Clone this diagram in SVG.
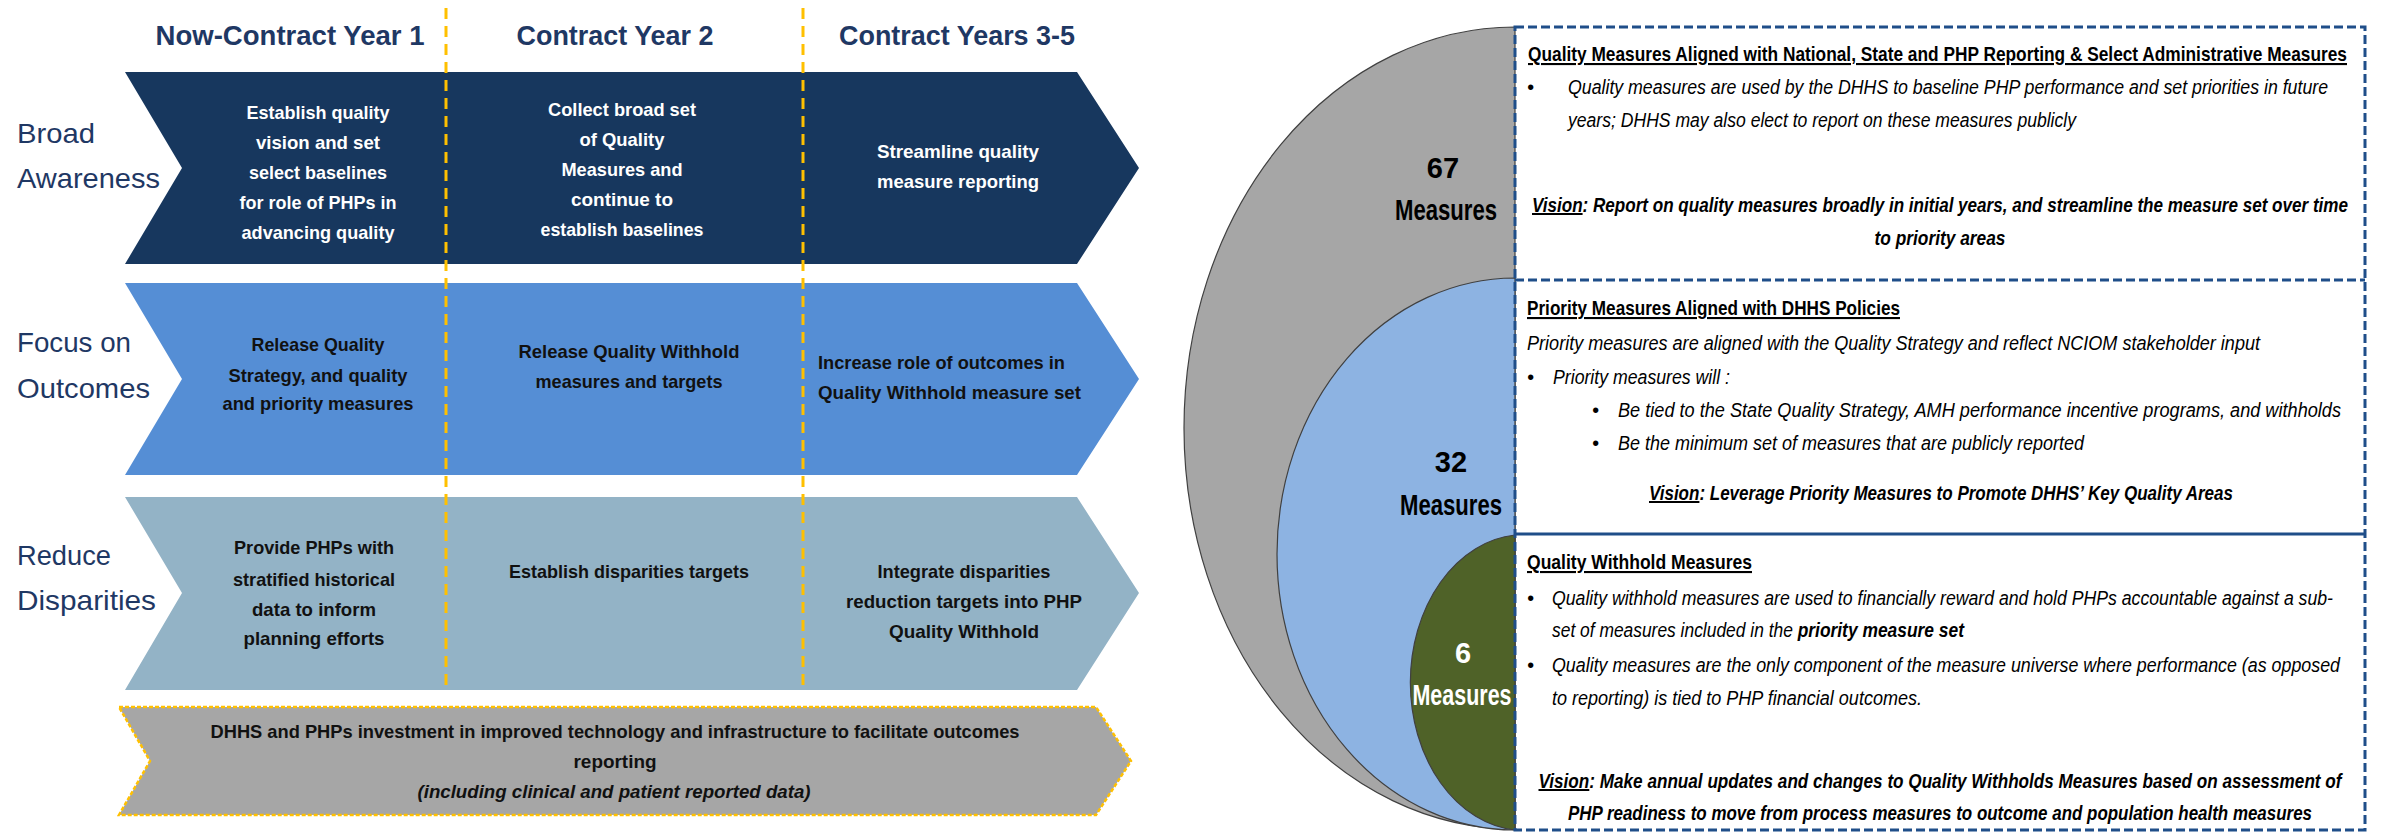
<svg xmlns="http://www.w3.org/2000/svg" width="2382" height="832" viewBox="0 0 2382 832">
<style>
text{font-family:"Liberation Sans",Arial,sans-serif}
.hdr{font-weight:bold;font-size:27px;fill:#1F3864;text-anchor:middle}
.lbl{font-size:28px;fill:#1F3864}
.rt{font-weight:bold;font-size:19px;text-anchor:middle}
.w{fill:#fff}
.d{fill:#111}
.st{text-anchor:start}
.it{font-style:italic}
.num{font-weight:bold;font-size:29px;text-anchor:middle}
.ttl{font-weight:bold;font-size:21px;text-decoration:underline;fill:#000}
.bd{font-style:italic;font-size:20px;fill:#000}
.vs{font-style:italic;font-weight:bold;font-size:20px;fill:#000;text-anchor:middle}
.u{text-decoration:underline}
.b{font-weight:bold}
.yl{stroke:#FFC000;stroke-width:3;stroke-dasharray:11 7;fill:none}
.ell{stroke:#404040;stroke-width:1.2}
.box{fill:none;stroke:#1F4E89;stroke-width:3;stroke-dasharray:9 4}
</style>

<g id="headers">
<text class="hdr" x="290" y="45" textLength="269" lengthAdjust="spacingAndGlyphs">Now-Contract Year 1</text>
<text class="hdr" x="615" y="45" textLength="197" lengthAdjust="spacingAndGlyphs">Contract Year 2</text>
<text class="hdr" x="957" y="45" textLength="236" lengthAdjust="spacingAndGlyphs">Contract Years 3-5</text>
</g>

<g id="row-labels">
<text class="lbl" x="17" y="143" textLength="78" lengthAdjust="spacingAndGlyphs">Broad</text>
<text class="lbl" x="17" y="188" textLength="143" lengthAdjust="spacingAndGlyphs">Awareness</text>
<text class="lbl" x="17" y="352" textLength="114" lengthAdjust="spacingAndGlyphs">Focus on</text>
<text class="lbl" x="17" y="398" textLength="133" lengthAdjust="spacingAndGlyphs">Outcomes</text>
<text class="lbl" x="17" y="565" textLength="94" lengthAdjust="spacingAndGlyphs">Reduce</text>
<text class="lbl" x="17" y="610" textLength="139" lengthAdjust="spacingAndGlyphs">Disparities</text>
</g>

<g id="row-broad-awareness">
<polygon points="125,72 1077,72 1139,168 1077,264 125,264 182,168" fill="#17375E"/>
<text class="rt w" x="318" y="119" textLength="143" lengthAdjust="spacingAndGlyphs">Establish quality</text>
<text class="rt w" x="318" y="149" textLength="124" lengthAdjust="spacingAndGlyphs">vision and set</text>
<text class="rt w" x="318" y="179" textLength="138" lengthAdjust="spacingAndGlyphs">select baselines</text>
<text class="rt w" x="318" y="209" textLength="157" lengthAdjust="spacingAndGlyphs">for role of PHPs in</text>
<text class="rt w" x="318" y="239" textLength="153" lengthAdjust="spacingAndGlyphs">advancing quality</text>
<text class="rt w" x="622" y="116" textLength="148" lengthAdjust="spacingAndGlyphs">Collect broad set</text>
<text class="rt w" x="622" y="146" textLength="85" lengthAdjust="spacingAndGlyphs">of Quality</text>
<text class="rt w" x="622" y="176" textLength="121" lengthAdjust="spacingAndGlyphs">Measures and</text>
<text class="rt w" x="622" y="206" textLength="102" lengthAdjust="spacingAndGlyphs">continue to</text>
<text class="rt w" x="622" y="236" textLength="163" lengthAdjust="spacingAndGlyphs">establish baselines</text>
<text class="rt w" x="958" y="158" textLength="162" lengthAdjust="spacingAndGlyphs">Streamline quality</text>
<text class="rt w" x="958" y="188" textLength="162" lengthAdjust="spacingAndGlyphs">measure reporting</text>
</g>

<g id="row-focus-outcomes">
<polygon points="125,283 1077,283 1139,379 1077,475 125,475 182,379" fill="#558ED5"/>
<text class="rt d" x="318" y="351" textLength="133" lengthAdjust="spacingAndGlyphs">Release Quality</text>
<text class="rt d" x="318" y="382" textLength="179" lengthAdjust="spacingAndGlyphs">Strategy, and quality</text>
<text class="rt d" x="318" y="410" textLength="191" lengthAdjust="spacingAndGlyphs">and priority measures</text>
<text class="rt d" x="629" y="358" textLength="221" lengthAdjust="spacingAndGlyphs">Release Quality Withhold</text>
<text class="rt d" x="629" y="388" textLength="187" lengthAdjust="spacingAndGlyphs">measures and targets</text>
<text class="rt d st" x="818" y="369" textLength="247" lengthAdjust="spacingAndGlyphs">Increase role of outcomes in</text>
<text class="rt d st" x="818" y="399" textLength="263" lengthAdjust="spacingAndGlyphs">Quality Withhold measure set</text>
</g>

<g id="row-reduce-disparities">
<polygon points="125,497 1077,497 1139,593 1077,690 125,690 182,593" fill="#93B3C6"/>
<text class="rt d" x="314" y="554" textLength="160" lengthAdjust="spacingAndGlyphs">Provide PHPs with</text>
<text class="rt d" x="314" y="586" textLength="162" lengthAdjust="spacingAndGlyphs">stratified historical</text>
<text class="rt d" x="314" y="616" textLength="124" lengthAdjust="spacingAndGlyphs">data to inform</text>
<text class="rt d" x="314" y="645" textLength="141" lengthAdjust="spacingAndGlyphs">planning  efforts</text>
<text class="rt d" x="629" y="578" textLength="240" lengthAdjust="spacingAndGlyphs">Establish disparities targets</text>
<text class="rt d" x="964" y="578" textLength="173" lengthAdjust="spacingAndGlyphs">Integrate disparities</text>
<text class="rt d" x="964" y="608" textLength="236" lengthAdjust="spacingAndGlyphs">reduction  targets into PHP</text>
<text class="rt d" x="964" y="638" textLength="150" lengthAdjust="spacingAndGlyphs">Quality Withhold</text>
</g>

<g id="bar-investment">
<polygon points="119,707 1096,707 1131,761 1096,815 119,815 150,761" fill="#A6A6A6" stroke="#FFC000" stroke-width="2.5" stroke-dasharray="4 2"/>
<text class="rt d" x="615" y="738" textLength="809" lengthAdjust="spacingAndGlyphs">DHHS and PHPs investment in improved technology and infrastructure to facilitate outcomes</text>
<text class="rt d" x="615" y="768" textLength="83" lengthAdjust="spacingAndGlyphs">reporting</text>
<text class="rt d it" x="614" y="798" textLength="393" lengthAdjust="spacingAndGlyphs">(including clinical and patient reported data)</text>
</g>

<g id="connectors">
<line class="yl" x1="446" y1="8" x2="446" y2="690"/>
<line class="yl" x1="803" y1="8" x2="803" y2="690"/>
</g>

<g id="ellipse-67">
<path class="ell" d="M1515,27 A331,401 0 0 0 1515,829 Z" fill="#A6A6A6"/>
<text class="num" x="1443" y="178" fill="#000">67</text>
<text class="num" x="1446" y="220" fill="#000" textLength="102" lengthAdjust="spacingAndGlyphs">Measures</text>
</g>

<g id="ellipse-32">
<path class="ell" d="M1515,278 A238,276 0 0 0 1515,830 Z" fill="#8DB3E2"/>
<text class="num" x="1451" y="472" fill="#000">32</text>
<text class="num" x="1451" y="515" fill="#000" textLength="102" lengthAdjust="spacingAndGlyphs">Measures</text>
</g>

<g id="ellipse-6">
<path class="ell" d="M1515,535 A114,148 0 0 0 1515,830 Z" fill="#4F6228"/>
<text class="num" x="1463" y="663" fill="#fff">6</text>
<text class="num" x="1462" y="705" fill="#fff" textLength="99" lengthAdjust="spacingAndGlyphs">Measures</text>
</g>

<g id="box-frame">
<rect class="box" x="1515" y="27" width="850" height="803"/>
<line class="box" x1="1515" y1="280" x2="2365" y2="280"/>
<line x1="1515" y1="534" x2="2365" y2="534" stroke="#1F4E89" stroke-width="3"/>
</g>

<g id="section-quality-measures">
<text class="ttl" x="1528" y="61" textLength="819" lengthAdjust="spacingAndGlyphs">Quality Measures Aligned with National, State and PHP Reporting &amp; Select Administrative Measures</text>
<text class="bd" x="1527" y="94" font-style="normal">•</text>
<text class="bd" x="1568" y="94" textLength="760" lengthAdjust="spacingAndGlyphs">Quality measures are used by the DHHS to baseline PHP performance and set priorities in future</text>
<text class="bd" x="1568" y="127" textLength="508" lengthAdjust="spacingAndGlyphs">years; DHHS may also elect to report on these measures publicly</text>
<text class="vs" x="1940" y="212" textLength="816" lengthAdjust="spacingAndGlyphs"><tspan class="u">Vision</tspan>: Report on quality measures broadly in initial years, and streamline the measure set over time</text>
<text class="vs" x="1940" y="245" textLength="131" lengthAdjust="spacingAndGlyphs">to priority areas</text>
</g>

<g id="section-priority-measures">
<text class="ttl" x="1527" y="315" textLength="373" lengthAdjust="spacingAndGlyphs">Priority Measures Aligned with DHHS Policies</text>
<text class="bd" x="1527" y="350" textLength="733" lengthAdjust="spacingAndGlyphs">Priority measures are aligned with the Quality Strategy and reflect NCIOM stakeholder input</text>
<text class="bd" x="1527" y="384" font-style="normal">•</text>
<text class="bd" x="1553" y="384" textLength="177" lengthAdjust="spacingAndGlyphs">Priority measures will :</text>
<text class="bd" x="1592" y="417" font-style="normal">•</text>
<text class="bd" x="1618" y="417" textLength="723" lengthAdjust="spacingAndGlyphs">Be tied to the State Quality Strategy, AMH performance incentive programs,  and withholds</text>
<text class="bd" x="1592" y="450" font-style="normal">•</text>
<text class="bd" x="1618" y="450" textLength="466" lengthAdjust="spacingAndGlyphs">Be the minimum set of measures that are publicly reported</text>
<text class="vs" x="1941" y="500" textLength="584" lengthAdjust="spacingAndGlyphs"><tspan class="u">Vision</tspan>: Leverage Priority Measures to Promote DHHS’ Key Quality Areas</text>
</g>

<g id="section-withhold-measures">
<text class="ttl" x="1527" y="569" textLength="225" lengthAdjust="spacingAndGlyphs">Quality Withhold Measures</text>
<text class="bd" x="1527" y="605" font-style="normal">•</text>
<text class="bd" x="1552" y="605" textLength="781" lengthAdjust="spacingAndGlyphs">Quality withhold measures are used to financially reward and hold PHPs accountable against a sub-</text>
<text class="bd" x="1552" y="637" textLength="412" lengthAdjust="spacingAndGlyphs">set of measures included in the <tspan class="b">priority measure set</tspan></text>
<text class="bd" x="1527" y="672" font-style="normal">•</text>
<text class="bd" x="1552" y="672" textLength="788" lengthAdjust="spacingAndGlyphs">Quality measures are the only component of the measure universe where performance (as opposed</text>
<text class="bd" x="1552" y="705" textLength="370" lengthAdjust="spacingAndGlyphs">to reporting) is tied to PHP financial outcomes.</text>
<text class="vs" x="1940" y="788" textLength="803" lengthAdjust="spacingAndGlyphs"><tspan class="u">Vision</tspan>:  Make annual updates and changes to Quality Withholds Measures based on assessment of</text>
<text class="vs" x="1940" y="820" textLength="744" lengthAdjust="spacingAndGlyphs">PHP readiness to move from process measures to outcome and population health measures</text>
</g>
</svg>
